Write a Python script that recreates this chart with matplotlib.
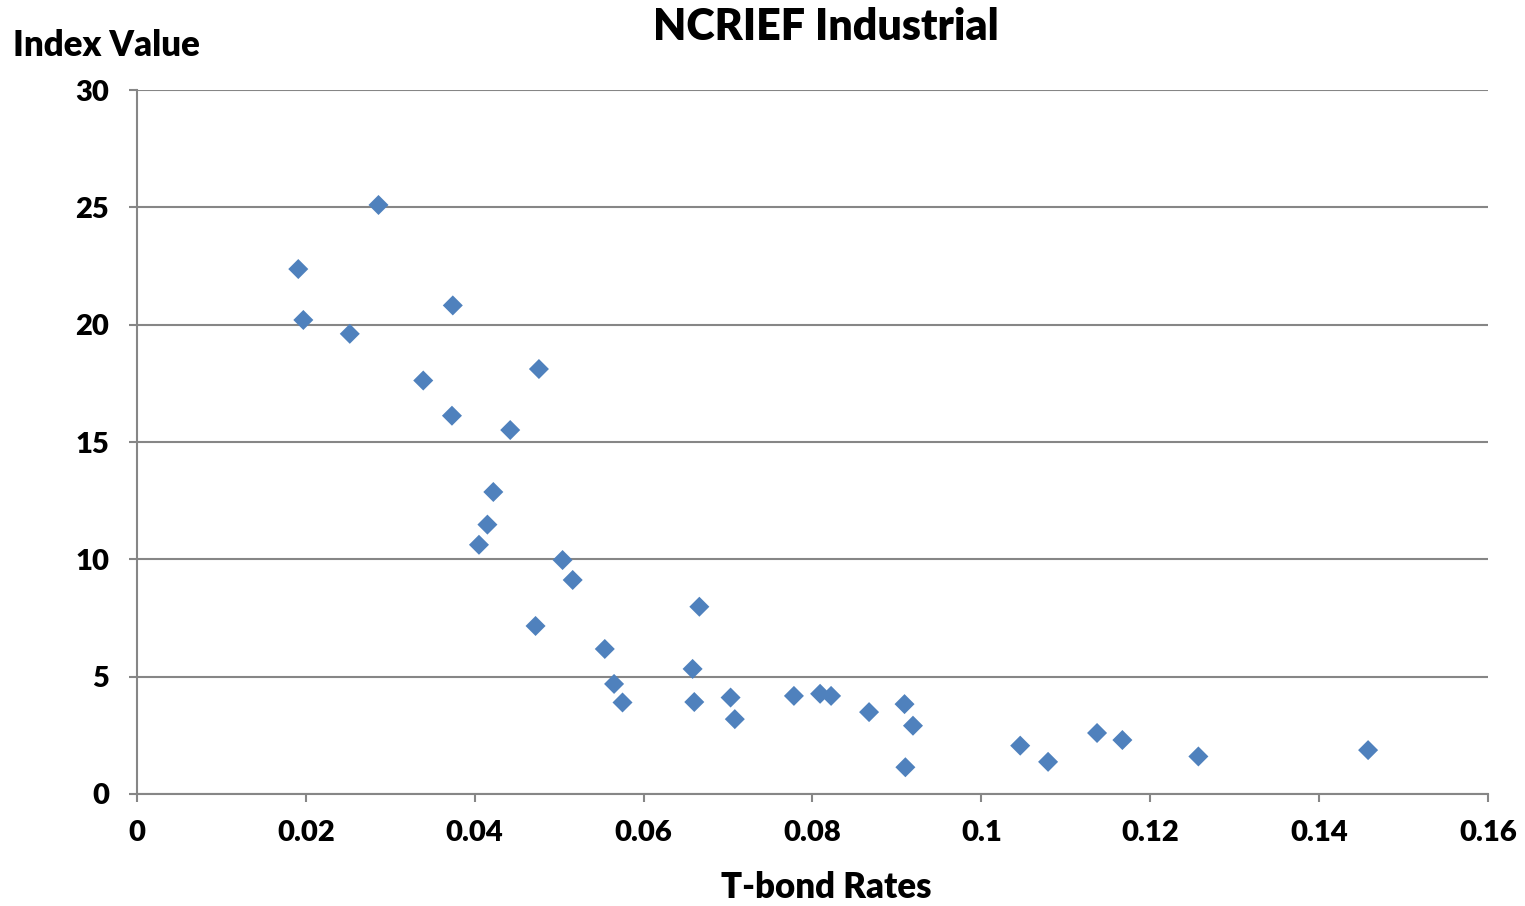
import matplotlib
matplotlib.use("Agg")
import matplotlib.pyplot as plt

tbond_rates = [0.0191, 0.0197, 0.0286, 0.0252, 0.0374, 0.0339, 0.0373, 0.0476,
               0.0442, 0.0422, 0.0415, 0.0405, 0.0504, 0.0516, 0.0472, 0.0554,
               0.0565, 0.0575, 0.0666, 0.0658, 0.0660, 0.0703, 0.0708, 0.0778,
               0.0809, 0.0822, 0.0867, 0.0909, 0.0919, 0.0910, 0.1046, 0.1079,
               0.1137, 0.1167, 0.1257, 0.1458]
index_values = [22.37, 20.20, 25.10, 19.61, 20.82, 17.62, 16.12, 18.11,
                15.51, 12.87, 11.48, 10.62, 9.97, 9.12, 7.16, 6.18,
                4.69, 3.90, 7.98, 5.33, 3.92, 4.11, 3.19, 4.18,
                4.27, 4.18, 3.49, 3.83, 2.91, 1.14, 2.06, 1.37,
                2.60, 2.30, 1.60, 1.87]

x_ticks = [0, 0.02, 0.04, 0.06, 0.08, 0.1, 0.12, 0.14, 0.16]
x_tick_labels = ["0", "0.02", "0.04", "0.06", "0.08", "0.1", "0.12", "0.14", "0.16"]
y_ticks = [0, 5, 10, 15, 20, 25, 30]

plt.rcParams['font.family'] = ['Lato', 'DejaVu Sans']

W, H = 1525, 906
fig = plt.figure(figsize=(W / 100, H / 100), dpi=100)
ax = fig.add_axes([137 / W, 1 - 794 / H, (1488 - 137) / W, (794 - 90) / H])

ax.scatter(tbond_rates, index_values, marker='D', s=10.2 ** 2, color='#4F81BD',
           edgecolors='none', zorder=3)

ax.set_xlim(0, 0.16)
ax.set_ylim(0, 30)
ax.set_xticks(x_ticks)
ax.set_xticklabels(x_tick_labels)
ax.set_yticks(y_ticks)
ax.yaxis.grid(True, color='#868686', linewidth=1.5)
ax.set_axisbelow(True)
for s in ['top', 'right']:
    ax.spines[s].set_visible(False)
for s in ['left', 'bottom']:
    ax.spines[s].set_color('#868686')
    ax.spines[s].set_linewidth(1.5)
ax.tick_params(axis='both', direction='out', length=6, width=1.5, color='#868686',
               labelsize=21)
ax.tick_params(axis='y', pad=14)
ax.tick_params(axis='x', pad=13)
for lab in ax.get_xticklabels() + ax.get_yticklabels():
    lab.set_fontweight('heavy')

fig.text(826 / W, 1 - 27 / H, "NCRIEF Industrial", ha='center', va='center',
         fontsize=31, fontweight='heavy')
fig.text(13 / W, 1 - 45 / H, "Index Value", ha='left', va='center',
         fontsize=25, fontweight='heavy')
fig.text(826 / W, 1 - 888 / H, "T-bond Rates", ha='center', va='center',
         fontsize=25, fontweight='heavy')

fig.savefig("out.png", dpi=100, facecolor='white')
